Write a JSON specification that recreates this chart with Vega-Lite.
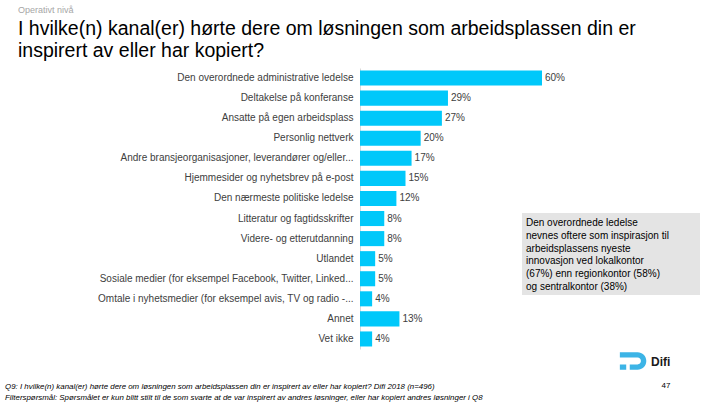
{
  "$schema": "https://vega.github.io/schema/vega-lite/v6.json",
  "autosize": "none",
  "width": 182,
  "height": 281,
  "padding": {"left": 360, "top": 68, "right": 178, "bottom": 56},
  "background": "white",
  "config": {"view": {"stroke": null}, "font": "Liberation Sans"},
  "data": {"values": [
    {"kanal": "Den overordnede administrative ledelse", "andel": 0.60},
    {"kanal": "Deltakelse på konferanse", "andel": 0.29},
    {"kanal": "Ansatte på egen arbeidsplass", "andel": 0.27},
    {"kanal": "Personlig nettverk", "andel": 0.20},
    {"kanal": "Andre bransjeorganisasjoner, leverandører og/eller...", "andel": 0.17},
    {"kanal": "Hjemmesider og nyhetsbrev på e-post", "andel": 0.15},
    {"kanal": "Den nærmeste politiske ledelse", "andel": 0.12},
    {"kanal": "Litteratur og fagtidsskrifter", "andel": 0.08},
    {"kanal": "Videre- og etterutdanning", "andel": 0.08},
    {"kanal": "Utlandet", "andel": 0.05},
    {"kanal": "Sosiale medier (for eksempel Facebook, Twitter, Linked...", "andel": 0.05},
    {"kanal": "Omtale i nyhetsmedier (for eksempel avis, TV og radio -...", "andel": 0.04},
    {"kanal": "Annet", "andel": 0.13},
    {"kanal": "Vet ikke", "andel": 0.04}
  ]},
  "layer": [
    {
      "encoding": {
        "y": {
          "field": "kanal", "type": "nominal", "sort": null,
          "scale": {"paddingInner": 0.25, "paddingOuter": 0.125},
          "axis": {"title": null, "ticks": false, "domainColor": "#d9d9d9", "labelFontSize": 10, "labelColor": "#404040", "labelPadding": 7, "labelLimit": 400}
        },
        "x": {
          "field": "andel", "type": "quantitative",
          "scale": {"domain": [0, 0.6]},
          "axis": null
        }
      },
      "layer": [
        {"mark": {"type": "bar", "color": "#00c8fa"}},
        {
          "mark": {"type": "text", "align": "left", "dx": 3, "fontSize": 10, "color": "#404040"},
          "encoding": {"text": {"field": "andel", "type": "quantitative", "format": ".0%"}}
        }
      ]
    },
    {
      "data": {"values": [{}]},
      "mark": {"type": "text", "text": "Operativt nivå", "x": -342, "y": -58, "align": "left", "baseline": "middle", "fontSize": 9, "color": "#a6a6a6"},
      "encoding": {}
    },
    {
      "data": {"values": [{}]},
      "mark": {"type": "text", "text": ["I hvilke(n) kanal(er) hørte dere om løsningen som arbeidsplassen din er", "inspirert av eller har kopiert?"], "x": -342, "y": -33, "align": "left", "baseline": "alphabetic", "fontSize": 19.5, "lineHeight": 22, "color": "#000000"},
      "encoding": {}
    },
    {
      "data": {"values": [{}]},
      "mark": {"type": "rect", "x": 162, "x2": 340, "y": 145, "y2": 227, "color": "#e4e4e4"},
      "encoding": {}
    },
    {
      "data": {"values": [{}]},
      "mark": {"type": "text", "text": ["Den overordnede ledelse", "nevnes oftere som inspirasjon til", "arbeidsplassens nyeste", "innovasjon ved lokalkontor", "(67%) enn regionkontor (58%)", "og sentralkontor (38%)"], "x": 166, "y": 158, "align": "left", "baseline": "alphabetic", "fontSize": 10, "lineHeight": 12.8, "color": "#000000"},
      "encoding": {}
    },
    {
      "data": {"values": [{}]},
      "mark": {"type": "text", "text": ["Q9: I hvilke(n) kanal(er) hørte dere om løsningen som arbeidsplassen din er inspirert av eller har kopiert? Difi 2018 (n=496)", "Filterspørsmål: Spørsmålet er kun blitt stilt til de som svarte at de var inspirert av andres løsninger, eller har kopiert andres løsninger i Q8"], "x": -355, "y": 321, "align": "left", "baseline": "alphabetic", "fontSize": 7.9, "fontStyle": "italic", "lineHeight": 11, "color": "#000000"},
      "encoding": {}
    },
    {
      "data": {"values": [{}]},
      "mark": {"type": "text", "text": "47", "x": 306, "y": 318, "align": "center", "baseline": "middle", "fontSize": 8, "color": "#000000"},
      "encoding": {}
    },
    {
      "data": {"values": [{}]},
      "mark": {"type": "point", "shape": "M-1,-0.62 L0.25,-0.62 A0.62,0.62 0 0 1 0.25,0.62 L-0.3,0.62 L-0.3,0.24 L0.25,0.24 A0.24,0.24 0 0 0 0.25,-0.24 L-1,-0.24 Z M-1,0.24 L-0.55,0.24 L-0.55,0.62 L-1,0.62 Z", "x": 274, "y": 293, "size": 800, "filled": true, "color": "#3cb4e6", "opacity": 1},
      "encoding": {}
    },
    {
      "data": {"values": [{}]},
      "mark": {"type": "text", "text": "Difi", "x": 291, "y": 294, "align": "left", "baseline": "middle", "fontSize": 12, "fontWeight": "bold", "color": "#1a1a1a"},
      "encoding": {}
    }
  ]
}
